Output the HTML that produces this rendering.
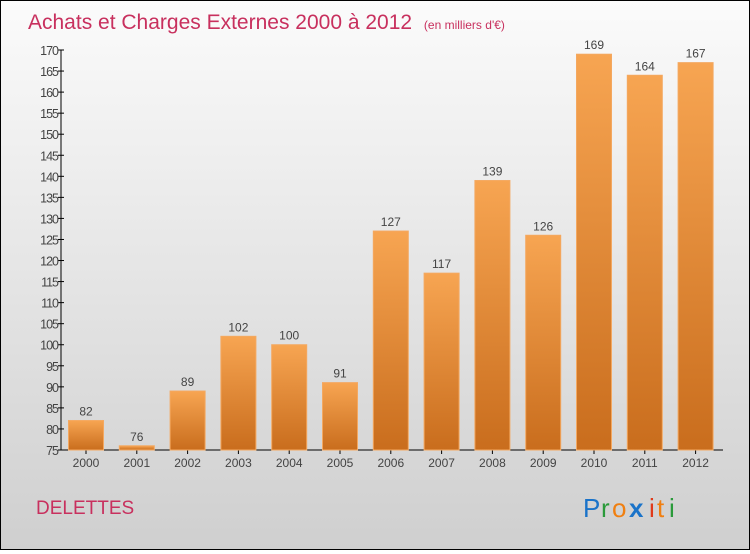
<!DOCTYPE html>
<html><head><meta charset="utf-8"><style>
body{margin:0;width:750px;height:550px;overflow:hidden}
#c{position:relative;width:748px;height:548px;border:1px solid #000;background:linear-gradient(#fbfbfb,#cfcfcf)}
text{font-family:"Liberation Sans",sans-serif}
</style></head><body>
<div id="c">
<svg id="s" width="748" height="548">
<defs><linearGradient id="g" x1="0" y1="0" x2="0" y2="1"><stop offset="0" stop-color="#f7a552"/><stop offset="1" stop-color="#c96d1d"/></linearGradient></defs>
<text x="27" y="28" font-size="21" fill="#c8305e">Achats et Charges Externes 2000 à 2012 <tspan font-size="12" dx="6">(en milliers d'€)</tspan></text>
<text x="35" y="513" font-size="19" fill="#c8305e">DELETTES</text>
<g font-size="26">
<text x="582" y="516" fill="#1a73c9">P</text><text x="600" y="516" fill="#2a9a3a">r</text><text x="611" y="516" fill="#f07f10">o</text><text x="628" y="516" fill="#1a73c9" font-weight="bold">x</text><text x="648" y="516" fill="#e03a1a">i</text><text x="656" y="516" fill="#f07f10">t</text><text x="668" y="516" fill="#2a9a3a">i</text>
</g>
<g id="ax"></g><g id="bars"></g>
</svg></div>
<script>
const years=["2000","2001","2002","2003","2004","2005","2006","2007","2008","2009","2010","2011","2012"];
const values=[82,76,89,102,100,91,127,117,139,126,169,164,167];
const yTicks=[75,80,85,90,95,100,105,110,115,120,125,130,135,140,145,150,155,160,165,170];
const NS="http://www.w3.org/2000/svg";
const y0=449,x0=60,yMin=75,yMax=170,pxU=(449-49)/(yMax-yMin);
const y=v=>y0-(v-yMin)*pxU;
const xc=i=>85+i*50.8;
function mk(t,a,p,txt){const e=document.createElementNS(NS,t);for(const k in a)e.setAttribute(k,a[k]);if(txt!=null)e.textContent=txt;p.appendChild(e);return e;}
const ax=document.getElementById('ax'),bars=document.getElementById('bars');
const yl=mk('line',{x1:x0,y1:y(170),x2:x0,y2:y0,stroke:'#000'},ax);


const xl=mk('line',{x1:x0,y1:y0,x2:722,y2:y0,stroke:'#000'},ax);


yTicks.forEach(v=>{
 mk('line',{x1:x0-3,y1:y(v),x2:x0+3,y2:y(v),stroke:'#000'},ax);
 const t=mk('text',{x:x0-3,y:y(v)+5,'font-size':12.5,fill:'#444','text-anchor':'end','letter-spacing':'-1'},ax,v);
 
 
});
years.forEach((yr,i)=>{
 const v=values[i],cx=xc(i);
 mk('line',{x1:cx,y1:y0,x2:cx,y2:y0+4,stroke:'#000'},ax);
 const t=mk('text',{x:cx,y:y0+17,'font-size':12,fill:'#444','text-anchor':'middle'},ax,yr);
 
 
 const r=mk('rect',{x:cx-17.5,y:y(v),width:35,height:y0-y(v),fill:'url(#g)',stroke:'#f4a860','stroke-width':1},bars);
 
 
 const l=mk('text',{x:cx,y:y(v)-5,'font-size':12,fill:'#444','text-anchor':'middle'},bars,v);
 
 
});
</script>
</body></html>
